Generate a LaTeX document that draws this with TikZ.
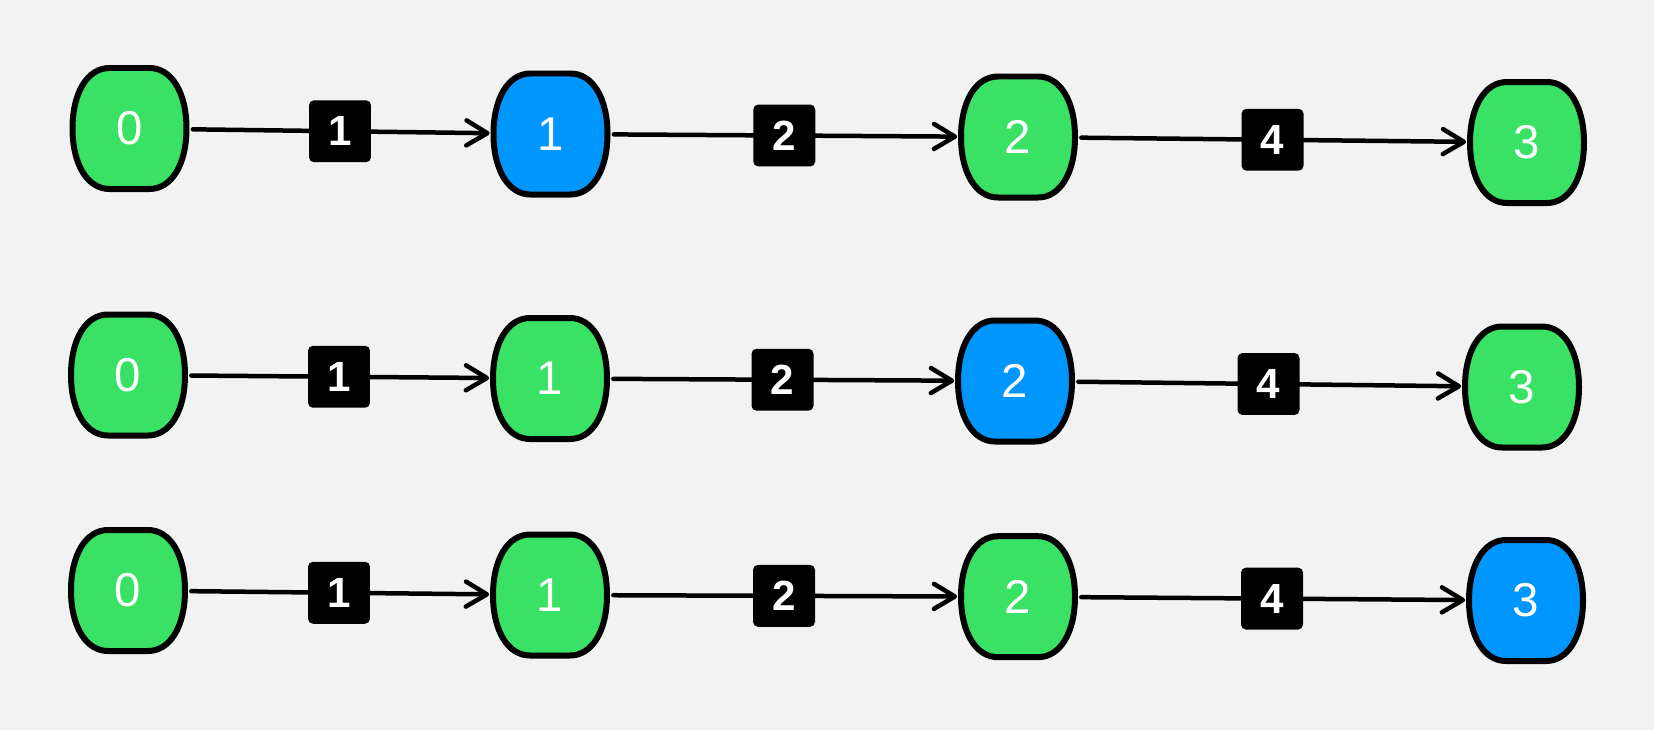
\documentclass[tikz,border=0pt]{standalone}
\usepackage{fontspec}
\setmainfont{Liberation Sans}
\usepackage{tikz}
\usetikzlibrary{calc,arrows.meta}

\definecolor{nodegreen}{HTML}{39E264}
\definecolor{nodeblue}{HTML}{0096FF}
\definecolor{bggray}{HTML}{F2F2F2}

\tikzset{
  state/.style={inner sep=0pt, minimum width=2.42cm, minimum height=2.54cm,
    text=white, font=\fontsize{27}{27}\selectfont},
  weight/.style={fill=black, text=white, rounded corners=0.1cm, inner sep=0pt,
    minimum size=1.24cm, font=\bfseries\fontsize{24}{24}\selectfont},
  link/.style={line width=0.09cm, line cap=round, shorten <=0.05cm,
    -{Straight Barb[length=0.42cm,width=0.5cm,round]}}
}

\begin{document}
\begin{tikzpicture}[x=0.02cm,y=-0.02cm]
  %% background and page size
  \fill[bggray] (0,0) rectangle (1654,730);

  %% the states, row/index/x/y
  \foreach \r/\k/\x/\y in {1/0/129.5/128.5, 1/1/550.5/134, 1/2/1018/137, 1/3/1527/142.5,
                           2/0/128/375, 2/1/550/378.5, 2/2/1015/381, 2/3/1522/387,
                           3/0/128/590.5, 3/1/550/595, 3/2/1018/596.7, 3/3/1526/600.5}
  {
    \ifnum\k=\r \def\col{nodeblue}\else\def\col{nodegreen}\fi
    \filldraw[fill=\col, line width=0.12cm]
      (\x-20,\y-60.5) -- (\x+20,\y-60.5)
      .. controls (\x+42,\y-60.5) and (\x+57,\y-36) .. (\x+57,\y)
      .. controls (\x+57,\y+36) and (\x+42,\y+60.5) .. (\x+20,\y+60.5)
      -- (\x-20,\y+60.5)
      .. controls (\x-42,\y+60.5) and (\x-57,\y+36) .. (\x-57,\y)
      .. controls (\x-57,\y-36) and (\x-42,\y-60.5) .. cycle;
    \node[state] (S\r\k) at (\x,\y) {\k};
  }

  %% the weighted links
  \foreach \r in {1,2,3}
  {
    \foreach \a/\b/\w in {0/1/1, 1/2/2, 2/3/4}
    {
      \draw[link] (S\r\a) -- node[weight] (W\r\a) {\w} (S\r\b);
    }
  }
\end{tikzpicture}
\end{document}
